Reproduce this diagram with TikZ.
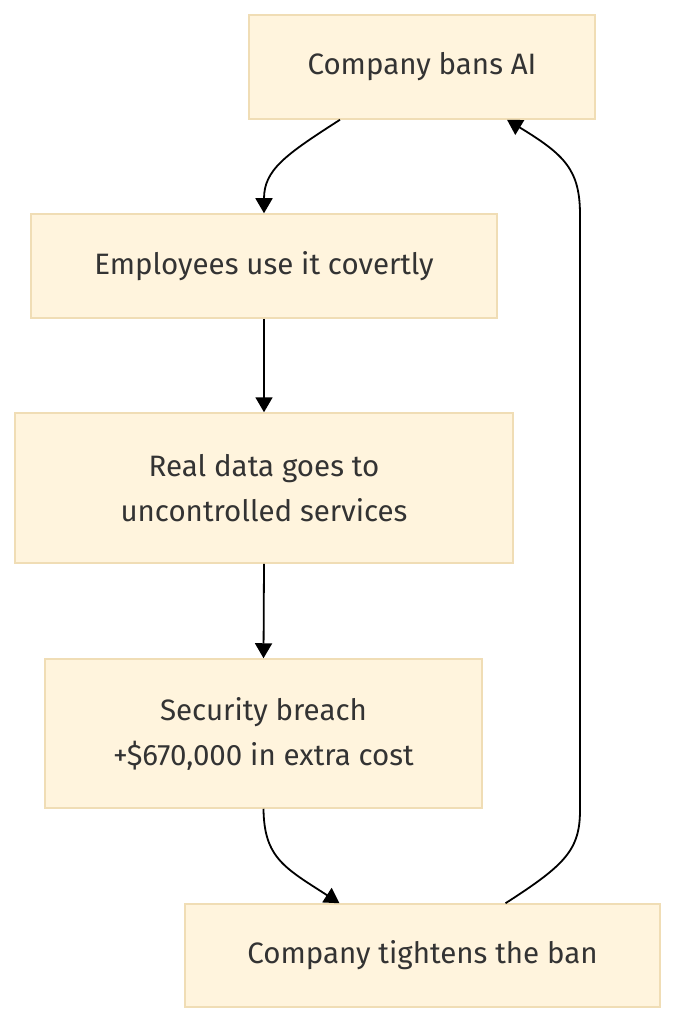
\documentclass[tikz,border=0pt]{standalone}
\usepackage{fontspec}
\setmainfont{Fira Sans}
\usetikzlibrary{arrows.meta}
\definecolor{boxfill}{HTML}{FFF4DD}
\definecolor{boxline}{HTML}{F0DDB5}
\definecolor{txt}{HTML}{333333}
\begin{document}
\begin{tikzpicture}[x=1pt,y=-1pt,
  box/.style={draw=boxline,fill=boxfill,line width=1.5pt,inner sep=0pt,align=center,
    text=txt,font=\fontsize{29.5}{45}\selectfont},
  conn/.style={line width=1.8pt,-{Triangle[width=17pt,length=15pt]}}]
\useasboundingbox (0,0) rectangle (675,1024);
\node[box,minimum width=346pt,minimum height=104pt] (A) at (422,67) {Company bans AI};
\node[box,minimum width=466pt,minimum height=104pt] (B) at (264,266) {Employees use it covertly};
\node[box,minimum width=498pt,minimum height=150pt] (C) at (264,488) {Real data goes to\\uncontrolled services};
\node[box,minimum width=437pt,minimum height=149pt] (D) at (263.5,733.5) {Security breach\\+\$670,000 in extra cost};
\node[box,minimum width=475pt,minimum height=103pt] (E) at (422.5,955.5) {Company tightens the ban};
\draw[conn] ([xshift=-82pt]A.south) .. controls (285,155) and (264,170) .. (B.north);
\draw[conn] (B.south) -- (C.north);
\draw[conn] (C.south) -- (D.north);
\draw[conn] (D.south) .. controls (264,858) and (285,868) .. ([xshift=-83pt]E.north);
\draw[conn] ([xshift=83pt]E.north) .. controls (565,865) and (580,850) .. (580,810) -- (580,215) .. controls (580,170) and (565,155) .. ([xshift=85pt]A.south);
\end{tikzpicture}
\end{document}
